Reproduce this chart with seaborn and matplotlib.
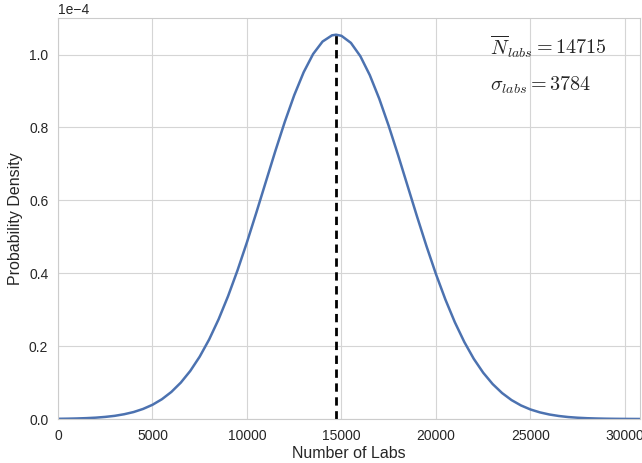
import numpy as np
import pandas as pd
import seaborn as sns
import matplotlib
matplotlib.use("Agg")
import matplotlib.pyplot as plt

# Values (density in units of 1e-4)
n_labs = [0, 500, 1000, 1500, 2000, 2500, 3000, 3500, 4000, 4500, 5000, 5500,
          6000, 6500, 7000, 7500, 8000, 8500, 9000, 9500, 10000, 10500, 11000,
          11500, 12000, 12500, 13000, 13500, 14000, 14500, 14715, 15000, 15500,
          16000, 16500, 17000, 17500, 18000, 18500, 19000, 19500, 20000, 20500,
          21000, 21500, 22000, 22500, 23000, 23500, 24000, 24500, 25000, 25500,
          26000, 26500, 27000, 27500, 28000, 28500, 29000, 29500, 30000, 30500,
          30800]
density_e4 = [0.00055, 0.00091, 0.0015, 0.0024, 0.0037, 0.0058, 0.0087, 0.0131,
              0.0191, 0.0276, 0.0390, 0.0543, 0.0743, 0.0999, 0.1319, 0.1712,
              0.2183, 0.2737, 0.3371, 0.4079, 0.4851, 0.5669, 0.6511, 0.7350,
              0.8151, 0.8883, 0.9514, 1.0014, 1.0356, 1.0526, 1.0543, 1.0513,
              1.0319, 0.9953, 0.9433, 0.8786, 0.8041, 0.7234, 0.6393, 0.5553,
              0.4740, 0.3975, 0.3277, 0.2654, 0.2113, 0.1652, 0.1270, 0.0959,
              0.0712, 0.0519, 0.0372, 0.0262, 0.0182, 0.0124, 0.0083, 0.0054,
              0.0035, 0.0022, 0.0014, 0.00085, 0.0005, 0.0003, 0.00017, 0.0001]
mean_labs = 14715
sigma_labs = 3784
peak_e4 = 1.0543

sns.set_style("whitegrid", {"axes.edgecolor": "#cccccc", "grid.color": "#d5d5d5"})
plt.rcParams["font.family"] = ["Liberation Sans", "DejaVu Sans"]
plt.rcParams["mathtext.fontset"] = "cm"

df = pd.DataFrame({"x": n_labs, "y": np.array(density_e4) * 1e-4})

fig = plt.figure(figsize=(6.42, 4.63), dpi=100)
ax = fig.add_axes([0.0903, 0.095, 0.9067, 0.866])
sns.lineplot(data=df, x="x", y="y", ax=ax, color="#4C72B0", linewidth=1.8)
ax.vlines(mean_labs, 0, peak_e4 * 1e-4, colors="black", linestyles=(0, (3, 2)), linewidth=2)

ax.set_xlim(0, 30800)
ax.set_ylim(0, 1.1e-4)
ax.set_xticks([0, 5000, 10000, 15000, 20000, 25000, 30000])
ax.set_yticks(np.array([0.0, 0.2, 0.4, 0.6, 0.8, 1.0]) * 1e-4)
ax.ticklabel_format(axis="y", style="sci", scilimits=(0, 0))
ax.yaxis.get_offset_text().set_fontsize(10)
ax.tick_params(labelsize=10, colors="#262626")
ax.set_xlabel("Number of Labs", fontsize=11.5, color="#262626", labelpad=2)
ax.set_ylabel("Probability Density", fontsize=11.5, color="#262626")

ax.text(0.742, 0.928, r"$\overline{N}_{labs} = %d$" % mean_labs, transform=ax.transAxes,
        fontsize=14.5, va="center", ha="left")
ax.text(0.742, 0.833, r"$\sigma_{labs} = %d$" % sigma_labs, transform=ax.transAxes,
        fontsize=14.5, va="center", ha="left")

fig.savefig("out.png", dpi=100)
